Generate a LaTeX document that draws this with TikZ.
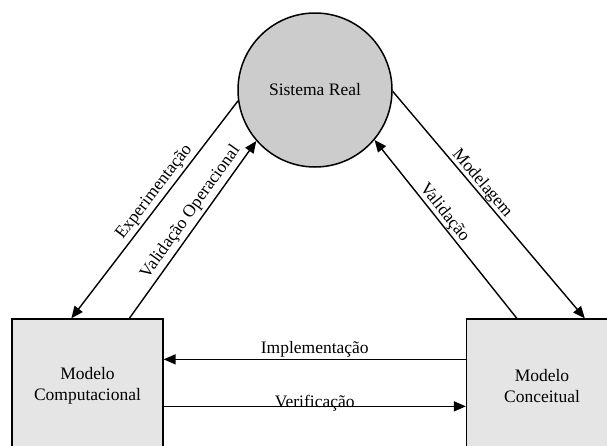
\documentclass[tikz,border=0pt]{standalone}
\usepackage{fontspec}
\setmainfont{Liberation Serif}
\usetikzlibrary{arrows.meta,calc}
\begin{document}
\begin{tikzpicture}[x=1pt,y=-1pt,
  every node/.style={font=\fontsize{17.5}{20.5}\selectfont},
  sysnode/.style={circle,draw=black,line width=1.5pt,fill=black!20,minimum size=154pt,inner sep=0pt},
  modbox/.style={rectangle,draw=black,line width=1.3pt,fill=black!10,minimum width=151pt,minimum height=134pt,align=center,inner sep=0pt},
  conn/.style={line width=1.4pt,-{Triangle[length=12pt,width=10pt]}},
  lbl/.style={sloped,inner sep=2.5pt}
]
\useasboundingbox (0,0) rectangle (607,445);
\clip (0,0) rectangle (607,445);
\node[sysnode] (sr) at (315,90) {Sistema Real};
\node[modbox] (mc) at (87.5,386) {Modelo\\Computacional};
\node[modbox] (mco) at (542,386) {Modelo\\Conceitual};
% left side
\draw[conn] (sr.188) -- node[lbl,above,pos=0.45] (l1) {Experimentação} ([xshift=60pt]mc.north west);
\draw[conn] ([xshift=118pt]mc.north west) -- node[lbl,above,pos=0.56,inner sep=3.5pt] (l2) {Validação Operacional} (sr.221);
% right side
\draw[conn] (sr.-1) -- node[lbl,above,pos=0.43,inner sep=0pt] (l3) {Modelagem} ([xshift=119pt]mco.north west);
\draw[conn] ([xshift=51pt]mco.north west) -- node[lbl,above,pos=0.56,inner sep=0.5pt] (l4) {Validação} (sr.-40);
% bottom
\draw[conn] ([yshift=-41pt]mco.north west) -- node[above,inner sep=1pt] (l5) {Implementação} ([yshift=-41pt]mc.north east);
\draw[conn] ([yshift=-88pt]mc.north east) -- node[anchor=base,inner sep=0pt,yshift=-1pt] (l6) {Verificação} ([yshift=-88pt]mco.north west);
\end{tikzpicture}
\end{document}
